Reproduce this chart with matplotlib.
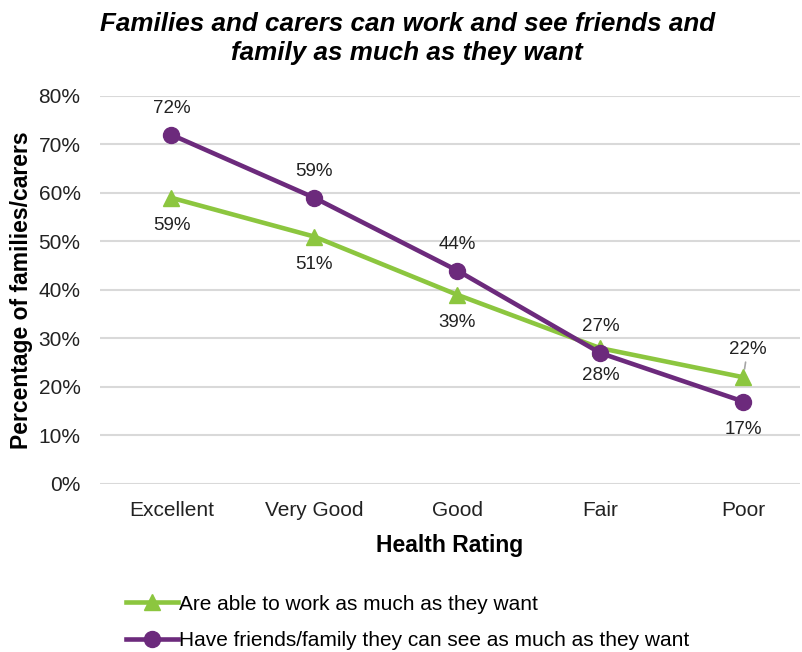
import matplotlib
matplotlib.use("Agg")
from matplotlib import pyplot as plt
from matplotlib.ticker import PercentFormatter

plt.rcParams['font.family'] = ['Liberation Sans', 'DejaVu Sans']

ratings = ['Excellent', 'Very Good', 'Good', 'Fair', 'Poor']
work_pct = [59, 51, 39, 28, 22]
friends_pct = [72, 59, 44, 27, 17]
work_label = 'Are able to work as much as they want'
friends_label = 'Have friends/family they can see as much as they want'

green = '#8CC63F'
purple = '#6C2A7C'

fig = plt.figure(figsize=(8.03, 6.52), dpi=100)
ax = fig.add_axes([0.1245, 0.2577, 0.8715, 0.5951])

x = list(range(len(ratings)))
ax.plot(x, work_pct, color=green, lw=3.3, marker='^', ms=12,
        label=work_label, zorder=3)
ax.plot(x, friends_pct, color=purple, lw=3.3, marker='o', ms=11.5,
        label=friends_label, zorder=4)

# data labels: purple above, green below (last green one pulled above)
lab_kw = dict(textcoords='offset points', ha='center', va='center',
              fontsize=13.5, color='#222222')
for xi, v in zip(x, friends_pct):
    dy = 19 if v != 17 else -20
    ax.annotate(f'{v}%', (xi, v), xytext=(0, dy), **lab_kw)
for xi, v in zip(x, work_pct):
    if xi == len(x) - 1:
        ax.annotate(f'{v}%', (xi, v), xytext=(3, 20),
                    arrowprops=dict(arrowstyle='-', color='#a6a6a6', lw=1.2,
                                    shrinkA=1, shrinkB=6), **lab_kw)
    else:
        ax.annotate(f'{v}%', (xi, v), xytext=(0, -20), **lab_kw)

ax.set_ylim(0, 80)
ax.set_yticks(range(0, 81, 10))
ax.yaxis.set_major_formatter(PercentFormatter(decimals=0))
ax.set_xlim(-0.5, 4.395)
ax.set_xticks(x)
ax.set_xticklabels(ratings)
ax.grid(axis='y', color='#d9d9d9', lw=1.5)
ax.set_axisbelow(True)
for s in ax.spines.values():
    s.set_visible(False)
ax.tick_params(length=0, labelsize=15, colors='#222222')
ax.tick_params(axis='y', pad=14)
ax.tick_params(axis='x', pad=12)

ax.set_ylabel('Percentage of families/carers', fontsize=16.5, fontweight='bold',
              labelpad=4)
ax.set_xlabel('Health Rating', fontsize=16.5, fontweight='bold', labelpad=10)

fig.suptitle('Families and carers can work and see friends and\n'
             'family as much as they want', x=0.507, y=0.982, va='top',
             fontsize=18.7, fontweight='bold', fontstyle='italic', linespacing=1.3)

fig.legend(loc='upper left', bbox_to_anchor=(0.157, 0.088), frameon=False,
           fontsize=15, handlelength=2.5, handletextpad=0.05, labelspacing=0.85,
           borderaxespad=0, borderpad=0)

fig.savefig('out.png', dpi=100)
